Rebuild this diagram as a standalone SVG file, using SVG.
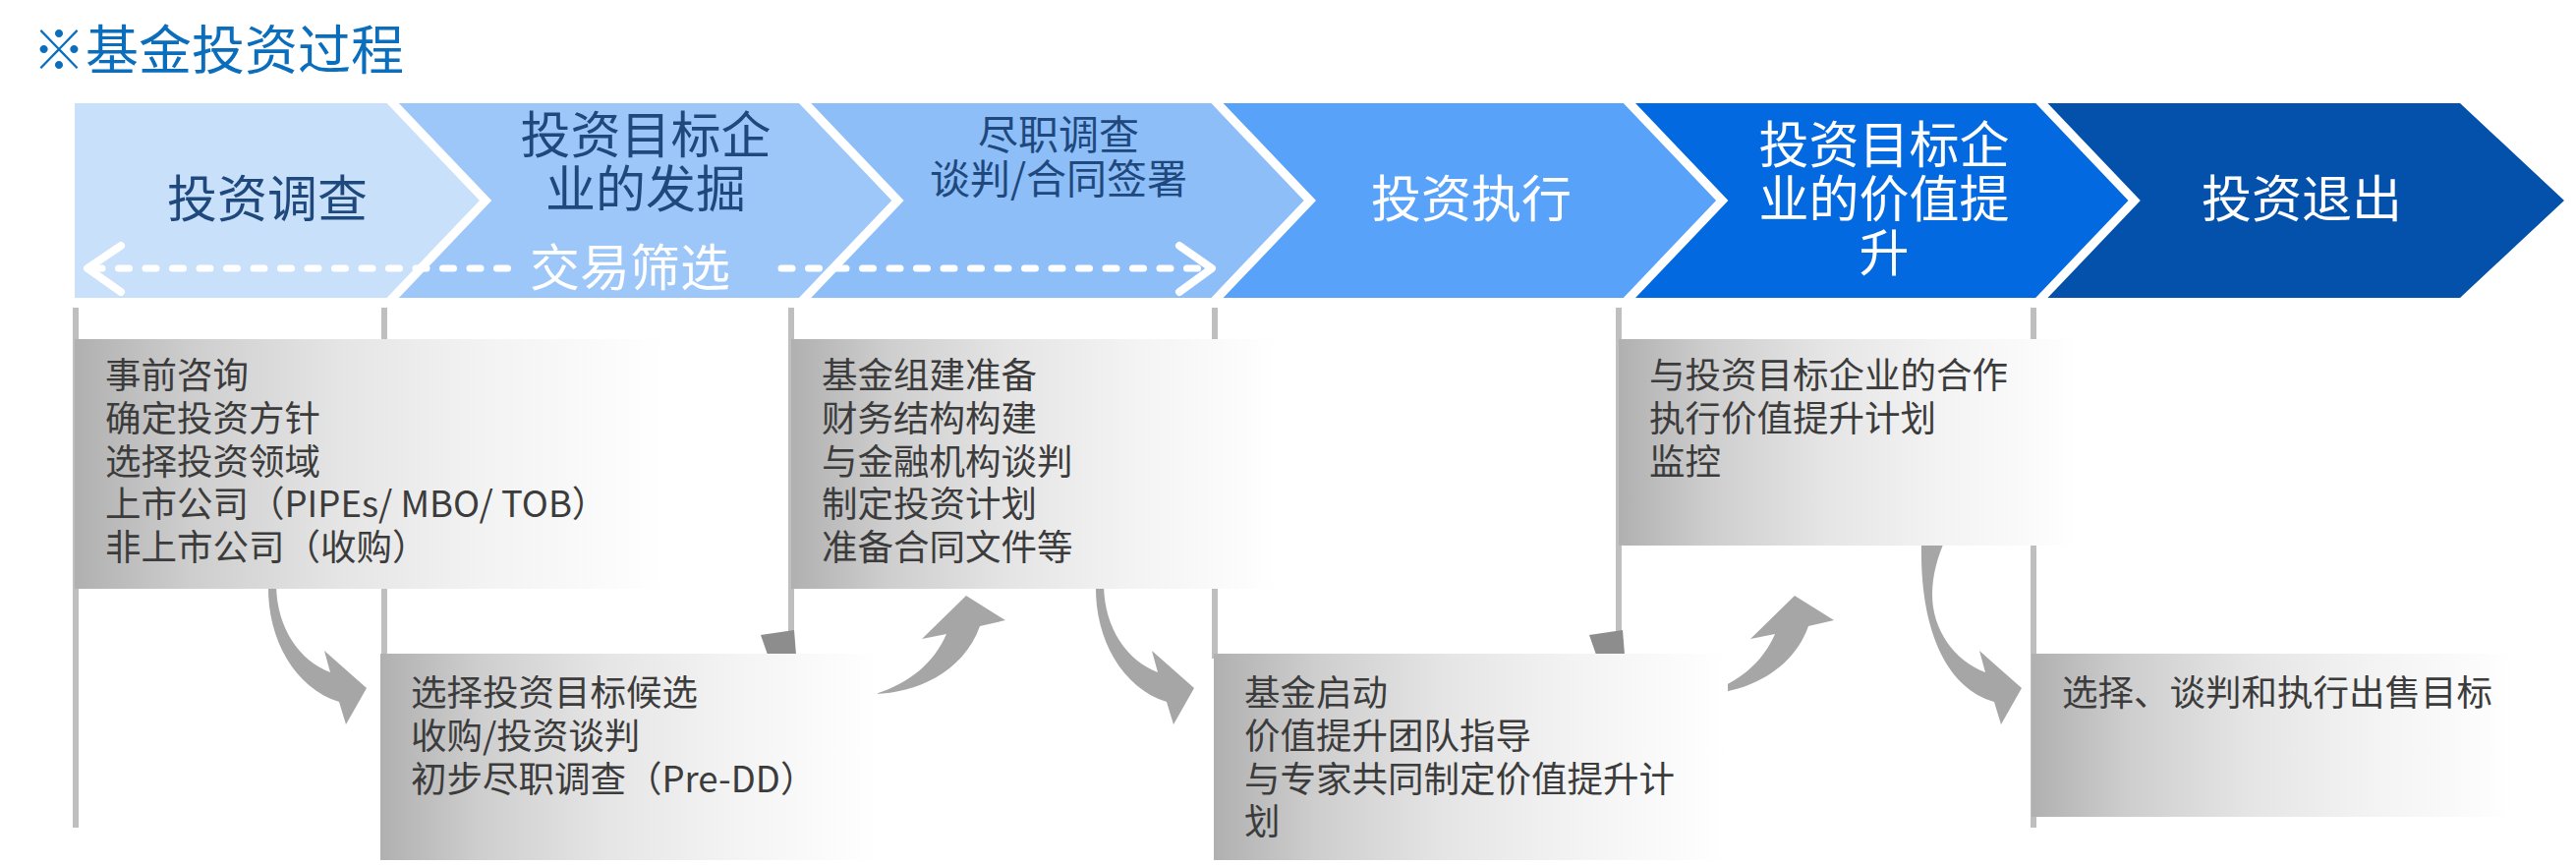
<svg xmlns="http://www.w3.org/2000/svg" width="2621" height="880" viewBox="0 0 2621 880">
<defs>
<linearGradient id="boxGrad" x1="0" y1="0" x2="1" y2="0">
<stop offset="0" stop-color="#B0B0B0"/>
<stop offset="0.2" stop-color="#CECECE"/>
<stop offset="0.45" stop-color="#E5E5E5"/>
<stop offset="0.7" stop-color="#F3F3F3"/>
<stop offset="0.88" stop-color="#FAFAFA"/>
<stop offset="1" stop-color="#FFFFFF"/>
</linearGradient>
<style>
.cn { font-family: "Noto Sans CJK SC", "Noto Sans", sans-serif; }
.title { fill:#0A6EBD; font-size:54px; }
.chev-dark { fill:#1F497D; font-size:51px; text-anchor:middle; }
.chev-light { fill:#FFFFFF; font-size:51px; text-anchor:middle; }
.box-text { fill:#3C3C3C; font-size:36.5px; }
.vline { stroke:#BFBFBF; stroke-width:6; fill:none; }
.sep { fill:none; stroke:#FFFFFF; stroke-width:9; stroke-linejoin:miter; }
.curve { fill:#A6A6A6; }
.wedge { fill:#8D8D8D; }
.dash { fill:none; stroke:#FFFFFF; stroke-width:7; stroke-linecap:round; stroke-dasharray:11 16.5; }
.ahead { fill:none; stroke:#FFFFFF; stroke-width:8; stroke-linecap:round; stroke-linejoin:round; }
.box { fill:url(#boxGrad); }
</style>
</defs>
<rect x="0" y="0" width="2621" height="880" fill="#FFFFFF"/>
<text class="cn title" x="33" y="71">※基金投资过程</text>

<g id="chevrons">
<g id="chev1"><polygon points="76,105 394,105 494,204 394,303 76,303" fill="#C9E0FB"/>
<text class="cn chev-dark" x="272" y="221">投资调查</text></g>
<g id="chev2"><polygon points="394,105 813.4,105 913.4,204 813.4,303 394,303 494,204" fill="#9DC7F9"/>
<text class="cn chev-dark" x="657" y="156">投资目标企</text>
<text class="cn chev-dark" x="657" y="211">业的发掘</text></g>
<g id="chev3"><polygon points="813.4,105 1232.8,105 1332.8,204 1232.8,303 813.4,303 913.4,204" fill="#8DBEF8"/>
<text class="cn chev-dark" x="1077" y="152" style="font-size:41px">尽职调查</text>
<text class="cn chev-dark" x="1077" y="197" style="font-size:41px">谈判/合同签署</text></g>
<g id="chev4"><polygon points="1232.8,105 1652.2,105 1752.2,204 1652.2,303 1232.8,303 1332.8,204" fill="#59A2F9"/>
<text class="cn chev-light" x="1497" y="221">投资执行</text></g>
<g id="chev5"><polygon points="1652.2,105 2071.6,105 2171.6,204 2071.6,303 1652.2,303 1752.2,204" fill="#0369E0"/>
<text class="cn chev-light" x="1917" y="166">投资目标企</text>
<text class="cn chev-light" x="1917" y="221">业的价值提</text>
<text class="cn chev-light" x="1917" y="276">升</text></g>
<g id="chev6"><polygon points="2071.6,105 2503,105 2609,204 2503,303 2071.6,303 2171.6,204" fill="#0451AB"/>
<text class="cn chev-light" x="2342" y="221">投资退出</text></g>
<g id="separators">
<polyline class="sep" points="394,99 494,204 394,309"/>
<polyline class="sep" points="813.4,99 913.4,204 813.4,309"/>
<polyline class="sep" points="1232.8,99 1332.8,204 1232.8,309"/>
<polyline class="sep" points="1652.2,99 1752.2,204 1652.2,309"/>
<polyline class="sep" points="2071.6,99 2171.6,204 2071.6,309"/>
</g>
</g>

<g id="connectors">
<g id="screening-arrow">
<path class="dash" d="M93 273 H520"/>
<path class="dash" d="M795 273 H1226"/>
<polyline class="ahead" points="123,250 89,273 123,297"/>
<polyline class="ahead" points="1200,250 1233,273 1200,297"/>
<text class="cn chev-light" x="641" y="291">交易筛选</text>
</g>
<g id="timeline-lines">
<line class="vline" x1="77" y1="313" x2="77" y2="842"/>
<line class="vline" x1="391" y1="313" x2="391" y2="670"/>
<line class="vline" x1="805" y1="313" x2="805" y2="665"/>
<line class="vline" x1="1236" y1="313" x2="1236" y2="670"/>
<line class="vline" x1="1647" y1="313" x2="1647" y2="670"/>
<line class="vline" x1="2069" y1="313" x2="2069" y2="842"/>
</g>
<polygon class="wedge" points="774,646 808,641 810,666 781,666"/>
<polygon class="wedge" points="1617,646 1651,641 1653,666 1624,666"/>
<path class="curve" d="M273,596 C272,650 300,700 345,714 L352,737 L373,700 L330,662 L336,684 C305,672 282,640 281,596 Z"/>
<path class="curve" d="M891,706 C930,705 980,685 997,637 L1023,631 L983,606 L938,650 L963,645 C950,675 925,695 891,706 Z"/>
<path class="curve" transform="translate(842,0)" d="M273,596 C272,650 300,700 345,714 L352,737 L373,700 L330,662 L336,684 C305,672 282,640 281,596 Z"/>
<path class="curve" transform="translate(843,0)" d="M891,706 C930,705 980,685 997,637 L1023,631 L983,606 L938,650 L963,645 C950,675 925,695 891,706 Z"/>
<path class="curve" d="M1955,552 C1953,640 1980,700 2029,714 L2036,737 L2057,700 L2014,662 L2020,684 C1988,672 1966,640 1966,605 C1966,585 1972,565 1978,552 Z"/>
</g>

<g id="box-a"><rect class="box" x="76" y="345" width="600" height="254"/>
<text class="cn box-text" x="107" y="395">事前咨询</text>
<text class="cn box-text" x="107" y="438.8">确定投资方针</text>
<text class="cn box-text" x="107" y="482.6">选择投资领域</text>
<text class="cn box-text" x="107" y="526.4">上市公司（PIPEs/ MBO/ TOB）</text>
<text class="cn box-text" x="107" y="570.2">非上市公司（收购）</text></g>
<g id="box-b"><rect class="box" x="387" y="665" width="506" height="210"/>
<text class="cn box-text" x="418" y="718">选择投资目标候选</text>
<text class="cn box-text" x="418" y="761.8">收购/投资谈判</text>
<text class="cn box-text" x="418" y="805.6">初步尽职调查（Pre-DD）</text></g>
<g id="box-c"><rect class="box" x="805" y="345" width="495" height="254"/>
<text class="cn box-text" x="836" y="395">基金组建准备</text>
<text class="cn box-text" x="836" y="438.8">财务结构构建</text>
<text class="cn box-text" x="836" y="482.6">与金融机构谈判</text>
<text class="cn box-text" x="836" y="526.4">制定投资计划</text>
<text class="cn box-text" x="836" y="570.2">准备合同文件等</text></g>
<g id="box-d"><rect class="box" x="1235" y="665" width="523" height="210"/>
<text class="cn box-text" x="1266" y="718">基金启动</text>
<text class="cn box-text" x="1266" y="761.8">价值提升团队指导</text>
<text class="cn box-text" x="1266" y="805.6">与专家共同制定价值提升计</text>
<text class="cn box-text" x="1266" y="849.4">划</text></g>
<g id="box-e"><rect class="box" x="1647" y="345" width="467" height="210"/>
<text class="cn box-text" x="1678" y="395">与投资目标企业的合作</text>
<text class="cn box-text" x="1678" y="438.8">执行价值提升计划</text>
<text class="cn box-text" x="1678" y="482.6">监控</text></g>
<g id="box-f"><rect class="box" x="2067" y="665" width="493" height="166"/>
<text class="cn box-text" x="2098" y="718">选择、谈判和执行出售目标</text></g>
</svg>
